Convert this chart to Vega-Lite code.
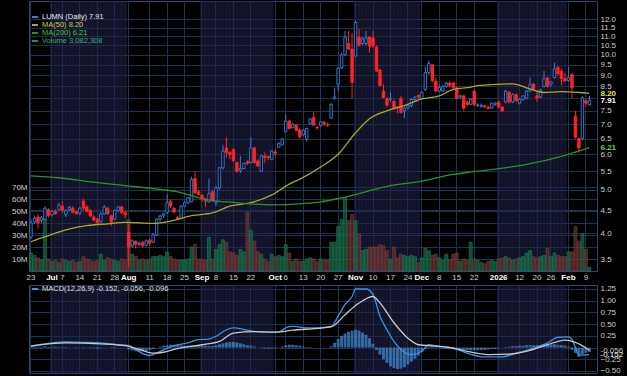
{
"$schema":"https://vega.github.io/schema/vega-lite/v6.json",
"background":"#000000",
"padding":0,
"spacing":1,
"datasets":{
"candles":[
{"d":"2025-06-23","o":3.92,"h":4.3,"l":3.88,"c":4.22,"v":15,"m":0.01},
{"d":"2025-06-24","o":4.24,"h":4.38,"l":4.2,"c":4.32,"v":13,"m":0.02},
{"d":"2025-06-25","o":4.35,"h":4.42,"l":4.1,"c":4.22,"v":11,"m":0.02},
{"d":"2025-06-26","o":4.27,"h":4.37,"l":4.22,"c":4.33,"v":9,"m":0.02},
{"d":"2025-06-27","o":4.3,"h":4.6,"l":4.28,"c":4.55,"v":43,"m":0.03},
{"d":"2025-06-30","o":4.52,"h":4.55,"l":4.33,"c":4.38,"v":10,"m":0.02},
{"d":"2025-07-01","o":4.4,"h":4.5,"l":4.36,"c":4.48,"v":8,"m":0.02},
{"d":"2025-07-02","o":4.48,"h":4.52,"l":4.4,"c":4.42,"v":9,"m":0.02},
{"d":"2025-07-03","o":4.52,"h":4.68,"l":4.5,"c":4.62,"v":7,"m":0.01},
{"d":"2025-07-07","o":4.6,"h":4.72,"l":4.45,"c":4.5,"v":10,"m":0.01},
{"d":"2025-07-08","o":4.4,"h":4.52,"l":4.35,"c":4.5,"v":9,"m":0.01},
{"d":"2025-07-09","o":4.52,"h":4.6,"l":4.48,"c":4.57,"v":8,"m":0},
{"d":"2025-07-10","o":4.55,"h":4.6,"l":4.43,"c":4.45,"v":9,"m":0},
{"d":"2025-07-11","o":4.47,"h":4.5,"l":4.4,"c":4.43,"v":7,"m":-0.01},
{"d":"2025-07-14","o":4.43,"h":4.58,"l":4.4,"c":4.55,"v":8,"m":0},
{"d":"2025-07-15","o":4.72,"h":4.78,"l":4.5,"c":4.55,"v":12,"m":0.01},
{"d":"2025-07-16","o":4.58,"h":4.62,"l":4.45,"c":4.48,"v":10,"m":0},
{"d":"2025-07-17","o":4.5,"h":4.53,"l":4.35,"c":4.37,"v":9,"m":-0.01},
{"d":"2025-07-18","o":4.35,"h":4.38,"l":4.25,"c":4.28,"v":8,"m":-0.01},
{"d":"2025-07-21","o":4.3,"h":4.33,"l":4.2,"c":4.22,"v":9,"m":-0.02},
{"d":"2025-07-22","o":4.25,"h":4.45,"l":4.22,"c":4.42,"v":14,"m":-0.01},
{"d":"2025-07-23","o":4.42,"h":4.62,"l":4.4,"c":4.58,"v":9,"m":0},
{"d":"2025-07-24","o":4.55,"h":4.58,"l":4.4,"c":4.42,"v":11,"m":0},
{"d":"2025-07-25","o":4.38,"h":4.4,"l":4.15,"c":4.25,"v":10,"m":-0.01},
{"d":"2025-07-28","o":4.3,"h":4.52,"l":4.28,"c":4.5,"v":9,"m":-0.01},
{"d":"2025-07-29","o":4.5,"h":4.6,"l":4.46,"c":4.58,"v":8,"m":0},
{"d":"2025-07-30","o":4.58,"h":4.6,"l":4.42,"c":4.45,"v":10,"m":0},
{"d":"2025-07-31","o":4.45,"h":4.5,"l":4.32,"c":4.4,"v":9,"m":0},
{"d":"2025-08-01","o":4.02,"h":4.2,"l":3.36,"c":3.73,"v":43,"m":-0.04},
{"d":"2025-08-04","o":3.75,"h":3.88,"l":3.72,"c":3.85,"v":14,"m":-0.06},
{"d":"2025-08-05","o":3.84,"h":3.86,"l":3.7,"c":3.78,"v":12,"m":-0.08},
{"d":"2025-08-06","o":3.78,"h":3.84,"l":3.74,"c":3.8,"v":9,"m":-0.09},
{"d":"2025-08-07","o":3.82,"h":3.84,"l":3.72,"c":3.75,"v":10,"m":-0.08},
{"d":"2025-08-08","o":3.76,"h":3.88,"l":3.74,"c":3.85,"v":9,"m":-0.07},
{"d":"2025-08-11","o":3.86,"h":3.9,"l":3.75,"c":3.8,"v":10,"m":-0.05},
{"d":"2025-08-12","o":3.82,"h":4.0,"l":3.8,"c":3.97,"v":12,"m":-0.03},
{"d":"2025-08-13","o":3.97,"h":4.32,"l":3.95,"c":4.3,"v":12,"m":0},
{"d":"2025-08-14","o":4.3,"h":4.4,"l":4.25,"c":4.37,"v":13,"m":0.02},
{"d":"2025-08-15","o":4.38,"h":4.45,"l":4.33,"c":4.42,"v":12,"m":0.04},
{"d":"2025-08-18","o":4.45,"h":4.88,"l":4.42,"c":4.68,"v":16,"m":0.05},
{"d":"2025-08-19","o":4.72,"h":4.75,"l":4.55,"c":4.6,"v":12,"m":0.06},
{"d":"2025-08-20","o":4.55,"h":4.57,"l":4.43,"c":4.46,"v":10,"m":0.06},
{"d":"2025-08-21","o":4.34,"h":4.38,"l":4.28,"c":4.3,"v":9,"m":0.05},
{"d":"2025-08-22","o":4.32,"h":4.62,"l":4.3,"c":4.6,"v":9,"m":0.05},
{"d":"2025-08-25","o":4.6,"h":4.72,"l":4.57,"c":4.68,"v":9,"m":0.04},
{"d":"2025-08-26","o":4.68,"h":4.82,"l":4.65,"c":4.8,"v":10,"m":0.04},
{"d":"2025-08-27","o":4.7,"h":5.35,"l":4.68,"c":5.28,"v":20,"m":0.05},
{"d":"2025-08-28","o":5.3,"h":5.5,"l":4.88,"c":4.92,"v":22,"m":0.05},
{"d":"2025-08-29","o":4.95,"h":5.0,"l":4.85,"c":4.88,"v":10,"m":0.05},
{"d":"2025-09-02","o":4.86,"h":4.9,"l":4.7,"c":4.77,"v":10,"m":0.04},
{"d":"2025-09-03","o":4.77,"h":4.8,"l":4.58,"c":4.72,"v":9,"m":0.04},
{"d":"2025-09-04","o":4.7,"h":5.3,"l":4.68,"c":4.9,"v":28,"m":0.03},
{"d":"2025-09-05","o":4.95,"h":5.0,"l":4.7,"c":4.72,"v":10,"m":0.03},
{"d":"2025-09-08","o":4.68,"h":5.1,"l":4.6,"c":5.05,"v":18,"m":0.05},
{"d":"2025-09-09","o":5.05,"h":5.62,"l":5.0,"c":5.6,"v":22,"m":0.07},
{"d":"2025-09-10","o":5.6,"h":6.3,"l":5.55,"c":6.1,"v":26,"m":0.09},
{"d":"2025-09-11","o":6.2,"h":6.55,"l":5.9,"c":6.05,"v":24,"m":0.11},
{"d":"2025-09-12","o":6.06,"h":6.1,"l":5.85,"c":6.0,"v":16,"m":0.12},
{"d":"2025-09-15","o":6.15,"h":6.2,"l":5.78,"c":5.8,"v":15,"m":0.12},
{"d":"2025-09-16","o":5.75,"h":5.78,"l":5.45,"c":5.5,"v":13,"m":0.11},
{"d":"2025-09-17","o":5.52,"h":5.95,"l":5.45,"c":5.58,"v":18,"m":0.09},
{"d":"2025-09-18","o":5.58,"h":5.75,"l":5.55,"c":5.72,"v":16,"m":0.07},
{"d":"2025-09-19","o":5.78,"h":5.82,"l":5.68,"c":5.72,"v":49,"m":0.05},
{"d":"2025-09-22","o":5.75,"h":6.55,"l":5.72,"c":6.2,"v":34,"m":0.04},
{"d":"2025-09-23","o":6.2,"h":6.25,"l":5.72,"c":5.75,"v":25,"m":0.02},
{"d":"2025-09-24","o":5.8,"h":5.85,"l":5.62,"c":5.65,"v":16,"m":0},
{"d":"2025-09-25","o":5.5,"h":5.97,"l":5.48,"c":5.95,"v":14,"m":-0.01},
{"d":"2025-09-26","o":5.95,"h":6.05,"l":5.75,"c":5.9,"v":10,"m":-0.02},
{"d":"2025-09-29","o":5.93,"h":5.96,"l":5.82,"c":5.9,"v":8,"m":-0.02},
{"d":"2025-09-30","o":5.85,"h":6.12,"l":5.82,"c":6.1,"v":14,"m":-0.02},
{"d":"2025-10-01","o":6.07,"h":6.15,"l":5.95,"c":6.03,"v":12,"m":-0.01},
{"d":"2025-10-02","o":6.22,"h":6.38,"l":6.2,"c":6.35,"v":13,"m":0},
{"d":"2025-10-03","o":6.3,"h":6.52,"l":6.28,"c":6.5,"v":12,"m":0.02},
{"d":"2025-10-06","o":6.75,"h":7.37,"l":6.7,"c":7.12,"v":22,"m":0.05},
{"d":"2025-10-07","o":7.12,"h":7.15,"l":6.83,"c":6.85,"v":15,"m":0.06},
{"d":"2025-10-08","o":6.88,"h":7.05,"l":6.85,"c":7.0,"v":8,"m":0.06},
{"d":"2025-10-09","o":6.97,"h":7.0,"l":6.75,"c":6.78,"v":10,"m":0.05},
{"d":"2025-10-10","o":6.8,"h":6.85,"l":6.5,"c":6.56,"v":8,"m":0.04},
{"d":"2025-10-13","o":6.63,"h":6.82,"l":6.6,"c":6.79,"v":8,"m":0.02},
{"d":"2025-10-14","o":6.48,"h":6.88,"l":6.4,"c":6.85,"v":10,"m":0.01},
{"d":"2025-10-15","o":7.02,"h":7.22,"l":7.0,"c":7.2,"v":11,"m":0.01},
{"d":"2025-10-16","o":7.25,"h":7.45,"l":6.95,"c":6.97,"v":10,"m":0},
{"d":"2025-10-17","o":6.9,"h":6.93,"l":6.8,"c":6.87,"v":8,"m":0},
{"d":"2025-10-20","o":6.95,"h":7.12,"l":6.9,"c":7.1,"v":10,"m":0},
{"d":"2025-10-21","o":7.08,"h":7.1,"l":6.93,"c":7.02,"v":9,"m":0},
{"d":"2025-10-22","o":7.0,"h":7.05,"l":6.9,"c":6.97,"v":9,"m":0},
{"d":"2025-10-23","o":7.22,"h":7.8,"l":7.2,"c":7.76,"v":24,"m":0.03},
{"d":"2025-10-24","o":7.98,"h":8.45,"l":7.95,"c":8.05,"v":24,"m":0.1},
{"d":"2025-10-27","o":8.6,"h":9.4,"l":8.3,"c":9.35,"v":37,"m":0.18},
{"d":"2025-10-28","o":9.36,"h":10.1,"l":9.3,"c":10.0,"v":43,"m":0.25},
{"d":"2025-10-29","o":10.0,"h":11.3,"l":9.95,"c":10.95,"v":61,"m":0.3},
{"d":"2025-10-30","o":10.6,"h":11.3,"l":10.25,"c":10.3,"v":42,"m":0.34},
{"d":"2025-10-31","o":10.3,"h":11.2,"l":8.0,"c":8.67,"v":47,"m":0.36},
{"d":"2025-11-03","o":9.94,"h":11.9,"l":9.9,"c":11.8,"v":42,"m":0.38},
{"d":"2025-11-04","o":10.95,"h":11.4,"l":10.4,"c":10.5,"v":31,"m":0.36},
{"d":"2025-11-05","o":10.6,"h":10.95,"l":10.5,"c":10.85,"v":17,"m":0.32},
{"d":"2025-11-06","o":10.6,"h":11.3,"l":10.5,"c":10.9,"v":18,"m":0.27},
{"d":"2025-11-07","o":10.95,"h":11.0,"l":10.1,"c":10.45,"v":20,"m":0.2},
{"d":"2025-11-10","o":10.9,"h":11.3,"l":10.4,"c":10.45,"v":20,"m":0.08},
{"d":"2025-11-11","o":10.4,"h":10.5,"l":9.15,"c":9.2,"v":20,"m":-0.05},
{"d":"2025-11-12","o":9.25,"h":9.3,"l":8.5,"c":8.54,"v":22,"m":-0.15},
{"d":"2025-11-13","o":8.3,"h":8.6,"l":8.0,"c":8.03,"v":21,"m":-0.25},
{"d":"2025-11-14","o":7.98,"h":8.05,"l":7.65,"c":7.72,"v":17,"m":-0.33},
{"d":"2025-11-17","o":7.95,"h":8.25,"l":7.85,"c":8.0,"v":10,"m":-0.4},
{"d":"2025-11-18","o":7.87,"h":7.95,"l":7.55,"c":7.6,"v":20,"m":-0.44},
{"d":"2025-11-19","o":7.65,"h":7.68,"l":7.4,"c":7.62,"v":11,"m":-0.46},
{"d":"2025-11-20","o":8.0,"h":8.1,"l":7.4,"c":7.44,"v":14,"m":-0.45},
{"d":"2025-11-21","o":7.5,"h":7.65,"l":7.22,"c":7.6,"v":13,"m":-0.42},
{"d":"2025-11-24","o":7.62,"h":7.75,"l":7.55,"c":7.7,"v":12,"m":-0.36},
{"d":"2025-11-25","o":7.7,"h":8.0,"l":7.65,"c":7.95,"v":13,"m":-0.3},
{"d":"2025-11-26","o":7.95,"h":8.1,"l":7.9,"c":8.02,"v":12,"m":-0.24},
{"d":"2025-11-28","o":8.12,"h":8.15,"l":7.95,"c":8.05,"v":7,"m":-0.17},
{"d":"2025-12-01","o":7.98,"h":8.28,"l":7.95,"c":8.25,"v":11,"m":-0.1},
{"d":"2025-12-02","o":8.37,"h":9.4,"l":8.3,"c":9.12,"v":19,"m":-0.03},
{"d":"2025-12-03","o":9.12,"h":9.7,"l":9.05,"c":9.56,"v":17,"m":0.02},
{"d":"2025-12-04","o":9.5,"h":9.55,"l":8.7,"c":8.75,"v":13,"m":0.03},
{"d":"2025-12-05","o":8.73,"h":8.9,"l":8.25,"c":8.3,"v":14,"m":0.02},
{"d":"2025-12-08","o":8.3,"h":8.6,"l":8.25,"c":8.45,"v":11,"m":-0.01},
{"d":"2025-12-09","o":8.3,"h":8.55,"l":8.25,"c":8.5,"v":9,"m":-0.02},
{"d":"2025-12-10","o":8.5,"h":8.7,"l":8.45,"c":8.65,"v":14,"m":-0.03},
{"d":"2025-12-11","o":8.65,"h":8.75,"l":8.45,"c":8.55,"v":9,"m":-0.03},
{"d":"2025-12-12","o":8.65,"h":8.7,"l":8.4,"c":8.45,"v":14,"m":-0.04},
{"d":"2025-12-15","o":8.45,"h":8.5,"l":7.95,"c":8.0,"v":15,"m":-0.05},
{"d":"2025-12-16","o":8.05,"h":8.15,"l":7.95,"c":8.1,"v":8,"m":-0.05},
{"d":"2025-12-17","o":8.1,"h":8.15,"l":7.5,"c":7.6,"v":10,"m":-0.05},
{"d":"2025-12-18","o":7.85,"h":7.9,"l":7.7,"c":7.75,"v":9,"m":-0.05},
{"d":"2025-12-19","o":7.75,"h":8.0,"l":7.72,"c":7.95,"v":24,"m":-0.06},
{"d":"2025-12-22","o":8.3,"h":8.35,"l":7.7,"c":7.74,"v":10,"m":-0.06},
{"d":"2025-12-23","o":7.72,"h":7.8,"l":7.65,"c":7.72,"v":9,"m":-0.06},
{"d":"2025-12-24","o":7.68,"h":7.8,"l":7.62,"c":7.72,"v":7,"m":-0.05},
{"d":"2025-12-26","o":7.7,"h":7.72,"l":7.6,"c":7.65,"v":6,"m":-0.05},
{"d":"2025-12-29","o":7.65,"h":7.68,"l":7.55,"c":7.6,"v":8,"m":-0.04},
{"d":"2025-12-30","o":7.6,"h":7.82,"l":7.58,"c":7.8,"v":9,"m":-0.03},
{"d":"2025-12-31","o":7.75,"h":7.85,"l":7.7,"c":7.8,"v":8,"m":-0.03},
{"d":"2026-01-02","o":7.85,"h":7.9,"l":7.6,"c":7.65,"v":10,"m":-0.01},
{"d":"2026-01-05","o":7.65,"h":7.68,"l":7.45,"c":7.5,"v":11,"m":0},
{"d":"2026-01-06","o":7.85,"h":8.35,"l":7.8,"c":8.3,"v":12,"m":0.01},
{"d":"2026-01-07","o":8.25,"h":8.3,"l":7.8,"c":7.85,"v":11,"m":0.02},
{"d":"2026-01-08","o":7.85,"h":8.2,"l":7.8,"c":8.15,"v":9,"m":0.03},
{"d":"2026-01-09","o":8.15,"h":8.2,"l":7.85,"c":7.9,"v":10,"m":0.03},
{"d":"2026-01-12","o":7.8,"h":8.0,"l":7.75,"c":7.95,"v":11,"m":0.04},
{"d":"2026-01-13","o":7.95,"h":8.12,"l":7.9,"c":8.1,"v":12,"m":0.04},
{"d":"2026-01-14","o":8.0,"h":8.35,"l":7.95,"c":8.3,"v":15,"m":0.05},
{"d":"2026-01-15","o":8.3,"h":8.9,"l":8.25,"c":8.59,"v":17,"m":0.05},
{"d":"2026-01-16","o":8.6,"h":8.65,"l":8.3,"c":8.38,"v":12,"m":0.05},
{"d":"2026-01-20","o":8.1,"h":8.3,"l":7.85,"c":8.0,"v":11,"m":0.05},
{"d":"2026-01-21","o":8.05,"h":8.4,"l":8.0,"c":8.35,"v":12,"m":0.05},
{"d":"2026-01-22","o":8.5,"h":9.2,"l":8.45,"c":8.85,"v":13,"m":0.06},
{"d":"2026-01-23","o":8.88,"h":8.95,"l":8.45,"c":8.5,"v":19,"m":0.06},
{"d":"2026-01-26","o":8.6,"h":8.75,"l":8.5,"c":8.7,"v":12,"m":0.07},
{"d":"2026-01-27","o":8.9,"h":9.6,"l":8.85,"c":9.3,"v":15,"m":0.07},
{"d":"2026-01-28","o":9.37,"h":9.45,"l":9.0,"c":9.07,"v":13,"m":0.06},
{"d":"2026-01-29","o":9.2,"h":9.3,"l":8.55,"c":8.85,"v":12,"m":0.05},
{"d":"2026-01-30","o":8.85,"h":9.1,"l":8.7,"c":8.75,"v":12,"m":0.04},
{"d":"2026-02-02","o":8.75,"h":9.4,"l":8.7,"c":8.9,"v":16,"m":0.02},
{"d":"2026-02-03","o":9.04,"h":9.1,"l":8.0,"c":8.44,"v":16,"m":-0.05},
{"d":"2026-02-04","o":7.3,"h":7.5,"l":6.5,"c":6.55,"v":37,"m":-0.12},
{"d":"2026-02-05","o":6.5,"h":6.55,"l":6.05,"c":6.2,"v":25,"m":-0.2},
{"d":"2026-02-06","o":6.5,"h":8.1,"l":6.45,"c":8.02,"v":31,"m":-0.14},
{"d":"2026-02-09","o":7.9,"h":7.98,"l":7.7,"c":7.8,"v":18,"m":-0.11},
{"d":"2026-02-10","o":7.75,"h":8.1,"l":7.7,"c":7.91,"v":3.08,"m":-0.096}
],
"ma":[
{"d":"2025-06-23","s":"MA50","p":3.83},{"d":"2025-06-27","s":"MA50","p":3.93},{"d":"2025-07-08","s":"MA50","p":4.07},{"d":"2025-07-16","s":"MA50","p":4.16},{"d":"2025-07-24","s":"MA50","p":4.2},{"d":"2025-07-31","s":"MA50","p":4.23},{"d":"2025-08-12","s":"MA50","p":4.21},{"d":"2025-08-19","s":"MA50","p":4.26},{"d":"2025-08-27","s":"MA50","p":4.38},{"d":"2025-09-05","s":"MA50","p":4.44},{"d":"2025-09-12","s":"MA50","p":4.6},{"d":"2025-09-22","s":"MA50","p":4.68},{"d":"2025-09-30","s":"MA50","p":4.87},{"d":"2025-10-07","s":"MA50","p":5.15},{"d":"2025-10-13","s":"MA50","p":5.33},{"d":"2025-10-20","s":"MA50","p":5.62},{"d":"2025-10-27","s":"MA50","p":6.0},{"d":"2025-11-03","s":"MA50","p":6.7},{"d":"2025-11-07","s":"MA50","p":7.2},{"d":"2025-11-14","s":"MA50","p":7.5},{"d":"2025-11-21","s":"MA50","p":7.7},{"d":"2025-12-01","s":"MA50","p":7.97},{"d":"2025-12-08","s":"MA50","p":8.1},{"d":"2025-12-12","s":"MA50","p":8.37},{"d":"2025-12-19","s":"MA50","p":8.47},{"d":"2025-12-23","s":"MA50","p":8.54},{"d":"2025-12-31","s":"MA50","p":8.59},{"d":"2026-01-08","s":"MA50","p":8.61},{"d":"2026-01-14","s":"MA50","p":8.44},{"d":"2026-01-22","s":"MA50","p":8.24},{"d":"2026-01-29","s":"MA50","p":8.28},{"d":"2026-02-05","s":"MA50","p":8.24},{"d":"2026-02-10","s":"MA50","p":8.2},
{"d":"2025-06-23","s":"MA200","p":5.37},{"d":"2025-07-03","s":"MA200","p":5.32},{"d":"2025-07-18","s":"MA200","p":5.2},{"d":"2025-07-31","s":"MA200","p":5.11},{"d":"2025-08-14","s":"MA200","p":5.01},{"d":"2025-08-21","s":"MA200","p":4.95},{"d":"2025-09-03","s":"MA200","p":4.76},{"d":"2025-09-16","s":"MA200","p":4.68},{"d":"2025-09-30","s":"MA200","p":4.63},{"d":"2025-10-13","s":"MA200","p":4.66},{"d":"2025-10-20","s":"MA200","p":4.7},{"d":"2025-10-27","s":"MA200","p":4.78},{"d":"2025-11-03","s":"MA200","p":4.88},{"d":"2025-11-14","s":"MA200","p":5.09},{"d":"2025-12-01","s":"MA200","p":5.23},{"d":"2025-12-12","s":"MA200","p":5.41},{"d":"2025-12-19","s":"MA200","p":5.48},{"d":"2025-12-31","s":"MA200","p":5.56},{"d":"2026-01-14","s":"MA200","p":5.7},{"d":"2026-01-29","s":"MA200","p":5.94},{"d":"2026-02-10","s":"MA200","p":6.21}
],
"macd":[
{"d":"2025-06-23","s":"M","p":0.03},{"d":"2025-07-01","s":"M","p":0.1},{"d":"2025-07-08","s":"M","p":0.12},{"d":"2025-07-15","s":"M","p":0.11},{"d":"2025-07-22","s":"M","p":0.1},{"d":"2025-07-29","s":"M","p":0.06},{"d":"2025-08-01","s":"M","p":0.04},{"d":"2025-08-05","s":"M","p":-0.04},{"d":"2025-08-07","s":"M","p":-0.13},{"d":"2025-08-11","s":"M","p":-0.17},{"d":"2025-08-14","s":"M","p":-0.08},{"d":"2025-08-20","s":"M","p":0.04},{"d":"2025-08-26","s":"M","p":0.1},{"d":"2025-08-29","s":"M","p":0.17},{"d":"2025-09-04","s":"M","p":0.18},{"d":"2025-09-08","s":"M","p":0.24},{"d":"2025-09-11","s":"M","p":0.38},{"d":"2025-09-15","s":"M","p":0.42},{"d":"2025-09-19","s":"M","p":0.37},{"d":"2025-09-25","s":"M","p":0.33},{"d":"2025-10-02","s":"M","p":0.33},{"d":"2025-10-06","s":"M","p":0.42},{"d":"2025-10-08","s":"M","p":0.45},{"d":"2025-10-14","s":"M","p":0.42},{"d":"2025-10-17","s":"M","p":0.42},{"d":"2025-10-23","s":"M","p":0.45},{"d":"2025-10-27","s":"M","p":0.67},{"d":"2025-10-29","s":"M","p":0.92},{"d":"2025-10-31","s":"M","p":1.09},{"d":"2025-11-03","s":"M","p":1.25},{"d":"2025-11-06","s":"M","p":1.25},{"d":"2025-11-10","s":"M","p":1.13},{"d":"2025-11-12","s":"M","p":0.67},{"d":"2025-11-14","s":"M","p":0.38},{"d":"2025-11-18","s":"M","p":0.13},{"d":"2025-11-20","s":"M","p":-0.04},{"d":"2025-11-25","s":"M","p":-0.15},{"d":"2025-12-01","s":"M","p":-0.08},{"d":"2025-12-03","s":"M","p":0.06},{"d":"2025-12-05","s":"M","p":0.04},{"d":"2025-12-12","s":"M","p":-0.01},{"d":"2025-12-18","s":"M","p":-0.12},{"d":"2025-12-26","s":"M","p":-0.2},{"d":"2026-01-05","s":"M","p":-0.2},{"d":"2026-01-09","s":"M","p":-0.12},{"d":"2026-01-16","s":"M","p":-0.01},{"d":"2026-01-23","s":"M","p":0.1},{"d":"2026-01-28","s":"M","p":0.22},{"d":"2026-02-02","s":"M","p":0.23},{"d":"2026-02-03","s":"M","p":0.18},{"d":"2026-02-04","s":"M","p":0.0},{"d":"2026-02-05","s":"M","p":-0.15},{"d":"2026-02-06","s":"M","p":-0.16},{"d":"2026-02-10","s":"M","p":-0.152},
{"d":"2025-06-23","s":"S","p":0.03},{"d":"2025-07-08","s":"S","p":0.1},{"d":"2025-07-22","s":"S","p":0.08},{"d":"2025-07-31","s":"S","p":0.04},{"d":"2025-08-06","s":"S","p":-0.04},{"d":"2025-08-12","s":"S","p":-0.12},{"d":"2025-08-15","s":"S","p":-0.1},{"d":"2025-08-20","s":"S","p":-0.04},{"d":"2025-09-02","s":"S","p":0.06},{"d":"2025-09-09","s":"S","p":0.13},{"d":"2025-09-15","s":"S","p":0.31},{"d":"2025-09-23","s":"S","p":0.34},{"d":"2025-10-01","s":"S","p":0.33},{"d":"2025-10-08","s":"S","p":0.37},{"d":"2025-10-17","s":"S","p":0.41},{"d":"2025-10-23","s":"S","p":0.44},{"d":"2025-10-29","s":"S","p":0.7},{"d":"2025-11-04","s":"S","p":0.95},{"d":"2025-11-10","s":"S","p":1.09},{"d":"2025-11-12","s":"S","p":0.95},{"d":"2025-11-18","s":"S","p":0.53},{"d":"2025-11-24","s":"S","p":0.2},{"d":"2025-11-28","s":"S","p":0.06},{"d":"2025-12-05","s":"S","p":0.03},{"d":"2025-12-12","s":"S","p":-0.01},{"d":"2025-12-18","s":"S","p":-0.08},{"d":"2025-12-29","s":"S","p":-0.15},{"d":"2026-01-07","s":"S","p":-0.14},{"d":"2026-01-15","s":"S","p":-0.06},{"d":"2026-01-23","s":"S","p":0.06},{"d":"2026-01-30","s":"S","p":0.16},{"d":"2026-02-04","s":"S","p":0.11},{"d":"2026-02-10","s":"S","p":-0.056}
]
},
"vconcat":[
{
"width":568,"height":270,
"data":{"name":"candles"},
"encoding":{"x":{"field":"d","type":"ordinal","scale":{"type":"band","paddingInner":0,"paddingOuter":0.876,"align":0.04},
 "axis":{"values":["2025-06-23","2025-07-01","2025-07-07","2025-07-14","2025-07-21","2025-07-28","2025-08-01","2025-08-11","2025-08-18","2025-08-25","2025-09-02","2025-09-08","2025-09-15","2025-09-22","2025-10-01","2025-10-06","2025-10-13","2025-10-20","2025-10-27","2025-11-03","2025-11-10","2025-11-17","2025-11-24","2025-12-01","2025-12-08","2025-12-15","2025-12-22","2026-01-02","2026-01-12","2026-01-20","2026-01-26","2026-02-02","2026-02-09"],
 "labelExpr":"utcdate(toDate(datum.value)) <= 3 ? (utcmonth(toDate(datum.value)) == 0 ? utcFormat(toDate(datum.value), '%Y') : utcFormat(toDate(datum.value), '%b')) : utcFormat(toDate(datum.value), '%-d')",
 "labelAngle":0,"labelOverlap":false,"grid":true,"title":null,"bandPosition":0.5,"minExtent":11,"maxExtent":11,"labelPadding":2,
 "labelFontWeight":{"condition":{"test":"utcdate(toDate(datum.value)) <= 3","value":"bold"},"value":"normal"},
 "labelColor":{"condition":{"test":"utcdate(toDate(datum.value)) <= 3","value":"#ffffff"},"value":"#cfcfcf"}}}},
"layer":[
 {"layer":[
  {"transform":[{"filter":"utcmonth(toDate(datum.d)) % 2 == 0"}],
   "mark":{"type":"bar","width":{"band":1},"color":"#222248","opacity":0.6},
   "encoding":{"y":{"datum":225,"type":"quantitative","scale":{"domain":[0,225],"nice":false},
     "axis":{"orient":"left","values":[10,20,30,40,50,60,70],"labelExpr":"datum.value + 'M'","grid":true,"title":null,"minExtent":28,"maxExtent":28,"labelPadding":2}},
    "y2":{"datum":0}}},
  {"mark":{"type":"bar","width":{"band":0.85},"fillOpacity":0.7,"strokeWidth":0.6},
   "encoding":{"y":{"field":"v","type":"quantitative"},"y2":{"datum":0},
    "fill":{"condition":{"test":"datum.c >= datum.o","value":"#156844"},"value":"#663232"},
    "stroke":{"condition":{"test":"datum.c >= datum.o","value":"#1d8057"},"value":"#7e4040"}}}
 ]},
 {"layer":[
  {"mark":{"type":"rule","strokeWidth":1},
   "encoding":{"y":{"field":"l","type":"quantitative","scale":{"type":"log","domain":[3.296,13.18],"nice":false,"zero":false},
     "axis":{"orient":"right","values":[3.5,4,4.5,5,5.5,6,6.5,7,7.5,8,8.5,9,9.5,10,10.5,11,11.5,12,8.2,7.91,6.21],
      "labelExpr":"datum.value == 8.2 || datum.value == 7.91 || datum.value == 6.21 ? format(datum.value, '.2f') : format(datum.value, '.1f')",
      "labelOverlap":false,"grid":true,"title":null,"labelPadding":3,"minExtent":31,"maxExtent":31,
      "gridOpacity":{"condition":{"test":"datum.value == 8.2 || datum.value == 7.91 || datum.value == 6.21","value":0},"value":1},
      "labelOpacity":{"condition":{"test":"datum.value == 8","value":0},"value":1},
      "labelColor":{"condition":[{"test":"datum.value == 8.2","value":"#e6e65a"},{"test":"datum.value == 7.91","value":"#ffffff"},{"test":"datum.value == 6.21","value":"#5ad85a"}],"value":"#cfcfcf"},
      "labelFontWeight":{"condition":{"test":"datum.value == 8.2 || datum.value == 7.91 || datum.value == 6.21","value":"bold"},"value":"normal"}}},
    "y2":{"field":"h"},
    "color":{"condition":{"test":"datum.c >= datum.o","value":"#3b7dd8"},"value":"#ff2424"}}},
  {"mark":{"type":"bar","width":{"band":0.7},"strokeWidth":0.9},
   "encoding":{"y":{"field":"o","type":"quantitative"},"y2":{"field":"c"},
    "fill":{"condition":{"test":"datum.c >= datum.o","value":"#05050c"},"value":"#ff2424"},
    "stroke":{"condition":{"test":"datum.c >= datum.o","value":"#3b7dd8"},"value":"#ff2424"}}},
  {"data":{"name":"ma"},
   "mark":{"type":"line","strokeWidth":1.3,"interpolate":"monotone"},
   "encoding":{"y":{"field":"p","type":"quantitative"},
    "color":{"field":"s","type":"nominal","scale":{"domain":["LUMN","MA50","MA200","VOL"],"range":["#3b7dd8","#a8a82a","#2a922a","#21905c"]},
     "legend":{"orient":"none","legendX":2,"legendY":12,"title":null,
      "labelExpr":"datum.value == 'LUMN' ? 'LUMN (Daily) 7.91' : datum.value == 'MA50' ? 'MA(50) 8.20' : datum.value == 'MA200' ? 'MA(200) 6.21' : 'Volume 3,082,308'",
      "encode":{"labels":{"update":{"fill":{"signal":"datum.value == 'MA50' ? '#d2d24a' : datum.value == 'MA200' ? '#40c040' : datum.value == 'VOL' ? '#2fb070' : '#e8e8e8'"}}}}}}}}
 ]}
],
"resolve":{"scale":{"y":"independent"},"axis":{"y":"independent"}}
},
{
"width":568,"height":88,
"data":{"name":"candles"},
"encoding":{"x":{"field":"d","type":"ordinal","scale":{"type":"band","paddingInner":0,"paddingOuter":0.876,"align":0.04},
 "axis":{"values":["2025-06-23","2025-07-01","2025-07-07","2025-07-14","2025-07-21","2025-07-28","2025-08-01","2025-08-11","2025-08-18","2025-08-25","2025-09-02","2025-09-08","2025-09-15","2025-09-22","2025-10-01","2025-10-06","2025-10-13","2025-10-20","2025-10-27","2025-11-03","2025-11-10","2025-11-17","2025-11-24","2025-12-01","2025-12-08","2025-12-15","2025-12-22","2026-01-02","2026-01-12","2026-01-20","2026-01-26","2026-02-02","2026-02-09"],
 "labels":false,"grid":true,"title":null,"bandPosition":0.5,"minExtent":0,"maxExtent":0}}},
"layer":[
 {"layer":[
  {"transform":[{"filter":"utcmonth(toDate(datum.d)) % 2 == 0"}],
   "mark":{"type":"bar","width":{"band":1},"color":"#222248","opacity":0.6},
   "encoding":{"y":{"datum":1.335,"type":"quantitative","scale":{"domain":[-0.543,1.335],"nice":false,"zero":false},
     "axis":{"orient":"left","labels":false,"grid":false,"title":null,"minExtent":28,"maxExtent":28}},
    "y2":{"datum":-0.543}}},
  {"mark":{"type":"bar","width":{"band":0.85},"color":"#3f7fc0","opacity":0.8},
   "encoding":{"y":{"field":"m","type":"quantitative"},"y2":{"datum":0}}}
 ]},
 {"data":{"name":"macd"},
  "mark":{"type":"line","strokeWidth":1.3,"interpolate":"monotone"},
  "encoding":{"y":{"field":"p","type":"quantitative","scale":{"domain":[-0.543,1.335],"nice":false,"zero":false},
    "axis":{"orient":"right","values":[-0.5,-0.25,0,0.25,0.5,0.75,1,1.25,-0.056,-0.152],
     "labelExpr":"datum.value == -0.056 ? '-0.056' : datum.value == -0.152 ? '-0.152' : format(datum.value, '.2f')",
     "labelOverlap":false,"grid":true,"title":null,"labelPadding":3,"minExtent":31,"maxExtent":31,
     "gridOpacity":{"condition":{"test":"datum.value == -0.056 || datum.value == -0.152","value":0},"value":1},
     "labelOpacity":{"condition":{"test":"datum.value == 0","value":0},"value":1},
     "labelColor":{"condition":{"test":"datum.value == -0.152","value":"#ffffff"},"value":"#cfcfcf"}}},
   "color":{"field":"s","type":"nominal","scale":{"domain":["M","S"],"range":["#3f92e0","#c8c8c8"]},
    "legend":{"orient":"none","legendX":2,"legendY":0,"title":null,"values":["M"],"labelExpr":"'MACD(12,26,9) -0.152, -0.056, -0.096'"}}}}
],
"resolve":{"scale":{"y":"independent"},"axis":{"y":"independent"}}
},
{
"width":568,"height":20,
"view":{"stroke":null},
"data":{"values":[{"s":"W"}]},
"mark":{"type":"point","opacity":0},
"encoding":{"color":{"field":"s","type":"nominal","scale":{"range":["#3f92e0"]},
 "legend":{"orient":"none","legendX":30,"legendY":0,"title":null,"labelExpr":"'Wm%R(14) -49.06'"}}}
}
],
"resolve":{"scale":{"color":"independent"},"legend":{"color":"independent"}},
"config":{
 "axis":{"domain":false,"ticks":false,"tickSize":0,"labelFont":"Liberation Sans","labelFontSize":8,"labelColor":"#cfcfcf","gridColor":"#1a3552","gridWidth":1},
 "view":{"stroke":"#244a73","strokeWidth":1},
 "legend":{"labelFont":"Liberation Sans","labelFontSize":7.5,"labelColor":"#e0e0e0","symbolSize":36,"symbolStrokeWidth":2,"rowPadding":0,"padding":0,"labelOffset":3,"symbolOpacity":1}
}
}
